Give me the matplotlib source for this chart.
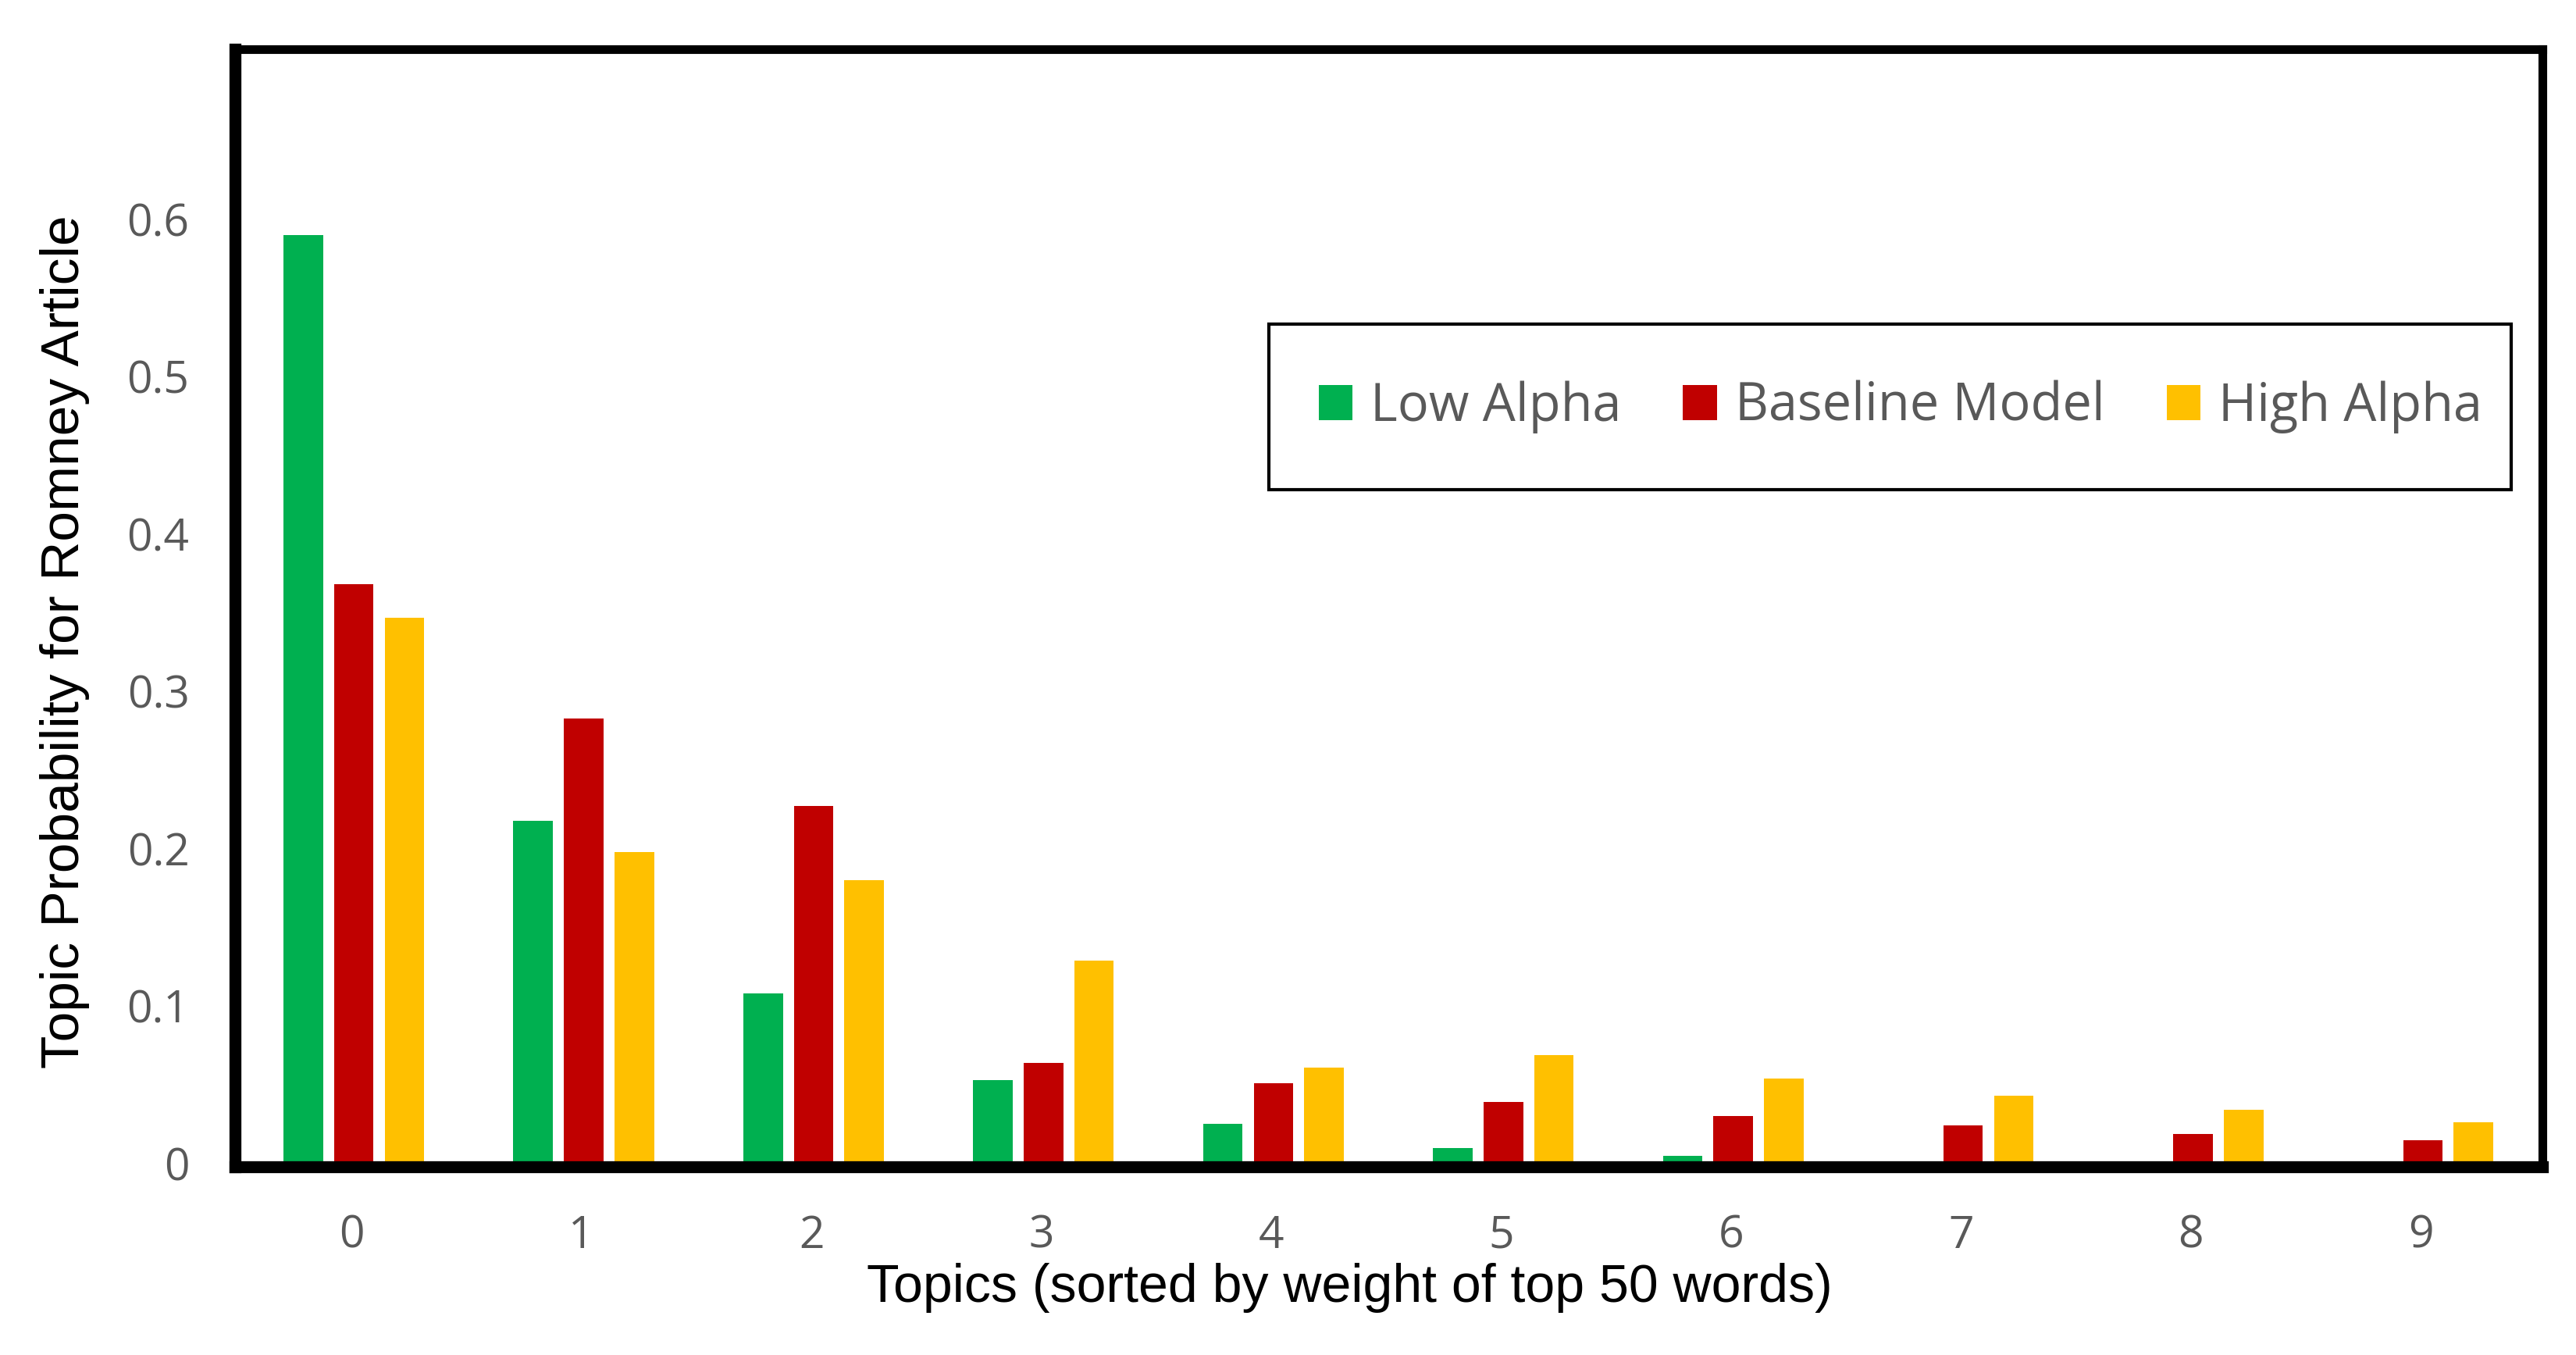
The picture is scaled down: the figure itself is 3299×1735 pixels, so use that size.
import matplotlib
matplotlib.use("Agg")
import matplotlib.pyplot as plt
from matplotlib.patches import Rectangle
import numpy as np

topics = list(range(10))
low_alpha = [0.590, 0.218, 0.108, 0.053, 0.025, 0.010, 0.005, 0.0, 0.0, 0.0]
baseline = [0.368, 0.283, 0.227, 0.064, 0.051, 0.039, 0.030, 0.024, 0.019, 0.015]
high_alpha = [0.347, 0.198, 0.180, 0.129, 0.061, 0.069, 0.054, 0.043, 0.034, 0.026]
yticks = [0, 0.1, 0.2, 0.3, 0.4, 0.5, 0.6]
ytick_labels = ["0", "0.1", "0.2", "0.3", "0.4", "0.5", "0.6"]

fig = plt.figure(figsize=(32.99, 17.35), dpi=100)
ax = fig.add_axes([0.0912, 0.139, 0.8958, 0.8246])

x = np.array(topics)
w = 0.172
ax.bar(x - 0.21, low_alpha, w, color="#00B050", label="Low Alpha")
ax.bar(x + 0.01, baseline, w, color="#C00000", label="Baseline Model")
ax.bar(x + 0.23, high_alpha, w, color="#FFC000", label="High Alpha")

ax.set_xlim(-0.507, 9.53)
ax.set_ylim(-0.002, 0.708)

# epais cadre noir
for side in ["top", "right"]:
    ax.spines[side].set_linewidth(8)
for side in ["left", "bottom"]:
    ax.spines[side].set_linewidth(11)
for s in ax.spines.values():
    s.set_color("black")

ax.set_yticks(yticks)
ax.set_yticklabels(ytick_labels)
ax.set_xticks(topics)
ax.tick_params(axis="both", length=0, labelsize=41, colors="#595959")
ax.tick_params(axis="y", pad=42)
ax.tick_params(axis="x", pad=44)
for lab in ax.get_xticklabels() + ax.get_yticklabels():
    lab.set_family("Open Sans")

ax.set_xlabel("Topics (sorted by weight of top 50 words)", fontsize=49,
              family="Liberation Sans")
ax.xaxis.set_label_coords(0.483, -0.086)
ax.set_ylabel("Topic Probability for Romney Article", fontsize=50,
              family="Liberation Sans")
ax.yaxis.set_label_coords(-0.063, 0.47)

# legende sans cadre + cadre dessine a part
leg = ax.legend(ncol=3, loc="center", bbox_to_anchor=(0.447, 0.606, 0.5495, 0.148),
                mode="expand", borderaxespad=0, frameon=False,
                prop={"family": "Open Sans", "size": 48},
                handlelength=0.65, handleheight=0.65, handletextpad=0.35,
                borderpad=1.0)
for t in leg.get_texts():
    t.set_color("#595959")
ax.add_patch(Rectangle((0.448, 0.606), 0.5385, 0.148, transform=ax.transAxes,
                       fill=False, edgecolor="black", linewidth=3, zorder=6))

fig.savefig("out.png", dpi=100)
